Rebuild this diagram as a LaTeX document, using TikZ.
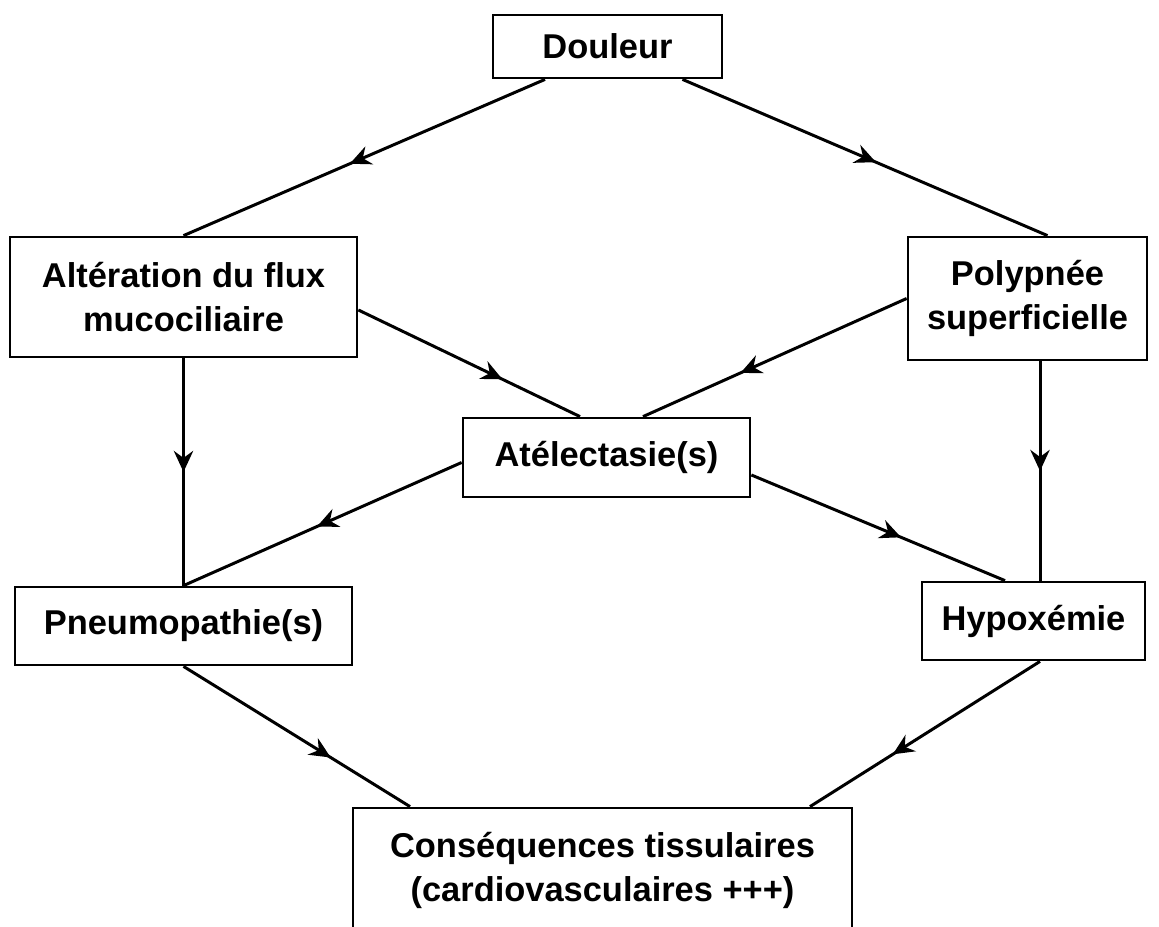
\documentclass[tikz,border=0pt]{standalone}
\usepackage{fontspec}
\setmainfont{Liberation Sans}
\usetikzlibrary{arrows.meta,decorations.markings}

\tikzset{
    box/.style={draw, line width=1.6pt, align=center, inner sep=0pt,
        font=\fontsize{19.6}{25}\selectfont\bfseries},
    link/.style={line width=1.7pt, postaction={decorate},
        decoration={markings,
            mark=at position #1 with {\arrow{Stealth[length=12pt,width=11pt,inset=4pt]}}}},
    link/.default=0.52
}

\begin{document}
\begin{tikzpicture}[x=0.02cm, y=-0.02cm]
    \clip (0,0) rectangle (1159,926);
    % boxes
    \node[box, minimum width=4.58cm, minimum height=1.26cm] (dou) at (607.5,46.5) {Douleur};
    \node[box, minimum width=6.94cm, minimum height=2.4cm] (alt) at (183.5,297) {Altération du flux\\mucociliaire};
    \node[box, minimum width=4.78cm, minimum height=2.46cm] (pol) at (1027.5,298.5) {Polypnée\\superficielle};
    \node[box, minimum width=5.74cm, minimum height=1.58cm] (ate) at (606.5,457.5) {Atélectasie(s)};
    \node[box, minimum width=6.74cm, minimum height=1.56cm] (pne) at (183.5,626) {Pneumopathie(s)};
    \node[box, minimum width=4.46cm, minimum height=1.56cm] (hyp) at (1033.5,621) {Hypoxémie};
    \node[box, minimum width=9.98cm, minimum height=2.48cm] (con) at (602.5,870) {Conséquences tissulaires\\(cardiovasculaires +++)};

    % links
    \draw[link=0.54] ([xshift=-1.25cm]dou.south) -- (alt.north);
    \draw[link=0.53] ([xshift=1.5cm]dou.south) -- ([xshift=0.4cm]pol.north);
    \draw[link=0.65] ([yshift=-0.26cm]alt.east) -- ([xshift=-0.53cm]ate.north);
    \draw[link=0.63] (pol.west) -- ([xshift=0.73cm]ate.north);
    \draw[link=0.5] (alt.south) -- (pne.north);
    \draw[link=0.5] ([xshift=0.25cm]pol.south) -- ([xshift=0.25cm]pol.south |- hyp.north);
    \draw[link=0.52] ([yshift=-0.1cm]ate.west) -- (pne.north);
    \draw[link=0.59] ([yshift=-0.35cm]ate.east) -- ([xshift=-0.57cm]hyp.north);
    \draw[link=0.65] (pne.south) -- ([xshift=-3.85cm]con.north);
    \draw[link=0.64] ([xshift=0.13cm]hyp.south) -- ([xshift=4.15cm]con.north);
\end{tikzpicture}
\end{document}
